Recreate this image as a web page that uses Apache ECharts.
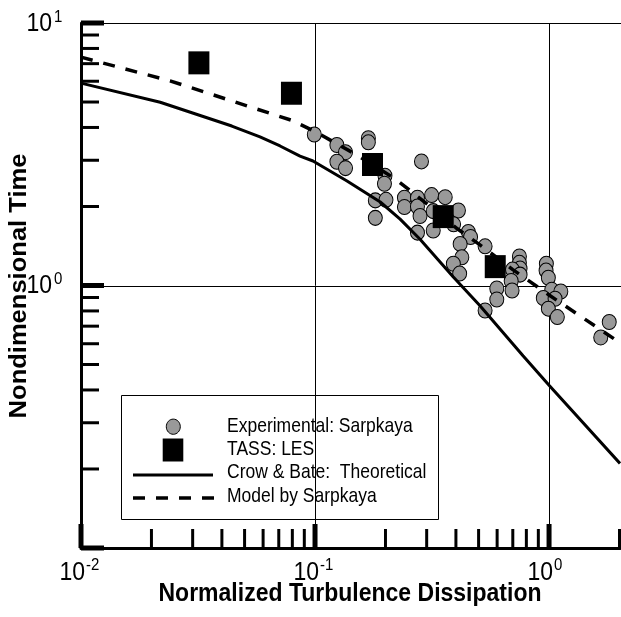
<!DOCTYPE html>
<html><head><meta charset="utf-8">
<script src="https://cdn.jsdelivr.net/npm/echarts@6/dist/echarts.min.js"></script>
<style>html,body{margin:0;padding:0;background:#fff}#c{width:621px;height:617px}</style>
</head><body><div id="c"></div>
<script>
// Experimental: Sarpkaya (circles)
const expX = [0.0993,0.124,0.135,0.169,0.169,0.124,0.135,0.199,0.198,0.285,0.181,0.201,0.181,0.241,0.241,0.274,0.274,0.315,0.360,0.281,0.320,0.320,0.274,0.410,0.391,0.452,0.462,0.417,0.533,0.424,0.390,0.415,0.747,0.747,0.752,0.698,0.752,0.689,0.598,0.598,0.695,0.533,0.974,0.971,0.993,1.027,1.123,0.945,1.061,0.993,1.085,1.808,1.663];
const expY = [3.76,3.43,3.22,3.64,3.51,2.96,2.80,2.62,2.44,2.97,2.11,2.12,1.81,2.16,1.99,2.16,2.00,2.21,2.17,1.84,1.92,1.62,1.59,1.93,1.71,1.60,1.53,1.44,1.41,1.28,1.21,1.11,1.29,1.22,1.16,1.15,1.10,1.04,0.974,0.884,0.957,0.803,1.21,1.14,1.07,0.963,0.949,0.896,0.890,0.816,0.758,0.726,0.634];
// TASS: LES (squares)
const tassX = [0.0319,0.0793,0.176,0.353,0.589];
const tassY = [7.05,5.40,2.89,1.83,1.18];
// Crow & Bate: Theoretical (solid)
const crowX = [0.01,0.0218,0.0441,0.0582,0.0709,0.0863,0.098,0.137,0.19,0.231,0.281,0.389,0.507,0.774,1.0,2.01];
const crowY = [5.9,4.99,4.05,3.68,3.40,3.11,2.98,2.5,2.08,1.79,1.50,1.08,0.838,0.54,0.417,0.21];
// Model by Sarpkaya (dashed)
const sarpX = [0.01,0.024,0.08,0.1,0.15,0.22,0.3,0.4,0.5,0.7,1.0,1.95,2.01];
const sarpY = [7.41,6.02,4.25,3.86,3.15,2.55,2.05,1.66,1.44,1.15,0.92,0.616,0.605];

const X_MIN = 0.01, X_MAX = 2.01, Y_MIN = 0.1, Y_MAX = 10;
const xMajorTicks = [0.01,0.1,1];
const xMinorTicks = [0.02,0.03,0.04,0.05,0.06,0.07,0.08,0.09,0.2,0.3,0.4,0.5,0.6,0.7,0.8,0.9,2];
const yMajorTicks = [0.1,1,10];
const yMinorTicks = [0.2,0.3,0.4,0.5,0.6,0.7,0.8,0.9,2,3,4,5,6,7,8,9];
const xLabelVals = [0.01,0.1,1];
const xLabelExps = ['-2','-1','0'];
const yLabelVals = [1,10];
const yLabelExps = ['0','1'];
const xGridVals = [0.1,1];
const yGridVals = [1,10];

const FONT = "'Liberation Sans', Arial, Helvetica, sans-serif";
const zip = (a,b) => a.map((v,i)=>[v,b[i]]);

function txt(x,y,text,size,align,bold,sy){
  return {type:'text', x:x, y:y, scaleY: sy||1,
    style:{text:text, fontSize:size, fontFamily:FONT, fontWeight: bold?'bold':'normal', fill:'#000',
      align:align, verticalAlign:'middle', textAlign:align, textVerticalAlign:'middle'}};
}

const chart = echarts.init(document.getElementById('c'), null, {renderer:'canvas'});
const option = {
  animation:false,
  backgroundColor:'#fff',
  grid:{left:81, right:1, top:23, bottom:69, containLabel:false},
  xAxis:{type:'log', logBase:10, min:X_MIN, max:X_MAX,
    axisLine:{show:true, onZero:false, lineStyle:{color:'#000', width:3}},
    axisTick:{show:false}, axisLabel:{show:false}, splitLine:{show:false}, minorTick:{show:false}},
  yAxis:{type:'log', logBase:10, min:Y_MIN, max:Y_MAX,
    axisLine:{show:true, onZero:false, lineStyle:{color:'#000', width:3}},
    axisTick:{show:false}, axisLabel:{show:false}, splitLine:{show:false}, minorTick:{show:false}},
  graphic:[
    {type:'group', z:100, children:[
      {type:'rect', shape:{x:121.5,y:395.5,width:317,height:124}, style:{fill:'#fff', stroke:'#000', lineWidth:1}},
      {type:'ellipse', shape:{cx:173.3, cy:426.7, rx:7, ry:7.6}, style:{fill:'#999', stroke:'#000', lineWidth:1}},
      {type:'rect', shape:{x:162.7,y:438.5,width:20.6,height:23}, style:{fill:'#000'}},
      {type:'line', shape:{x1:133,y1:475,x2:213,y2:475}, style:{stroke:'#000', lineWidth:3}},
      {type:'line', shape:{x1:133,y1:498,x2:215,y2:498}, style:{stroke:'#000', lineWidth:3.5, lineDash:[12,11]}},
      txt(227,426,'Experimental: Sarpkaya',17.5,'left',false,1.15),
      txt(227,449.5,'TASS: LES',17.5,'left',false,1.15),
      txt(227,472.5,'Crow & Bate:  Theoretical',17.5,'left',false,1.15),
      txt(227,496,'Model by Sarpkaya',17.5,'left',false,1.15)
    ]},
    Object.assign(txt(350,594,'Normalized Turbulence Dissipation',23,'center',true,1.11), {z:100}),
    {type:'text', z:100, x:20, y:286, rotation:Math.PI/2, scaleX:1.11,
      style:{text:'Nondimensional Time', fontSize:23, fontWeight:'bold', fontFamily:FONT, fill:'#000',
        align:'center', verticalAlign:'middle', textAlign:'center', textVerticalAlign:'middle'}}
  ],
  series:[
    {type:'custom', name:'vgrid', z:1, clip:false, silent:true,
      data: xGridVals.map(v=>[v,Y_MIN]), encode:{x:0,y:1},
      renderItem:(p,api)=>{const a=api.coord([api.value(0),Y_MIN]), b=api.coord([api.value(0),Y_MAX]);
        return {type:'line', shape:{x1:Math.round(a[0])+0.5,y1:a[1],x2:Math.round(b[0])+0.5,y2:b[1]}, style:{stroke:'#000', lineWidth:1}};}},
    {type:'custom', name:'hgrid', z:1, clip:false, silent:true,
      data: yGridVals.map(v=>[X_MIN,v]), encode:{x:0,y:1},
      renderItem:(p,api)=>{const a=api.coord([X_MIN,api.value(1)]), b=api.coord([X_MAX,api.value(1)]);
        return {type:'line', shape:{x1:a[0],y1:Math.round(a[1])+0.5,x2:b[0]+1,y2:Math.round(b[1])+0.5}, style:{stroke:'#000', lineWidth:1}};}},
    {type:'scatter', name:'Experimental: Sarpkaya', z:2, data: zip(expX,expY),
      symbol:'circle', symbolSize:[14,15], itemStyle:{color:'#999', borderColor:'#000', borderWidth:1, opacity:1}},
    {type:'line', name:'Crow & Bate: Theoretical', z:3, data: zip(crowX,crowY), showSymbol:false, symbol:'none',
      lineStyle:{color:'#000', width:3}},
    {type:'line', name:'Model by Sarpkaya', z:3, data: zip(sarpX,sarpY), showSymbol:false, symbol:'none',
      lineStyle:{color:'#000', width:3.5, type:[12,11]}},
    {type:'scatter', name:'TASS: LES', z:4, data: zip(tassX,tassY),
      symbol:'rect', symbolSize:[21,23], itemStyle:{color:'#000', opacity:1}},
    {type:'custom', name:'xticks', z:5, clip:false, silent:true,
      data: xMajorTicks.map(v=>[v,Y_MIN,1]).concat(xMinorTicks.map(v=>[v,Y_MIN,0])), encode:{x:0,y:1},
      renderItem:(p,api)=>{const a=api.coord([api.value(0),Y_MIN]); const maj=api.value(2)===1;
        const len=maj?24:19;
        return {type:'line', shape:{x1:a[0],y1:a[1],x2:a[0],y2:a[1]-len}, style:{stroke:'#000', lineWidth:maj?5:3}};}},
    {type:'custom', name:'yticks', z:5, clip:false, silent:true,
      data: yMajorTicks.map(v=>[X_MIN,v,1]).concat(yMinorTicks.map(v=>[X_MIN,v,0])), encode:{x:0,y:1},
      renderItem:(p,api)=>{const a=api.coord([X_MIN,api.value(1)]); const maj=api.value(2)===1;
        const len=maj?23:18;
        return {type:'line', shape:{x1:a[0],y1:a[1],x2:a[0]+len,y2:a[1]}, style:{stroke:'#000', lineWidth:maj?5:3}};}},
    {type:'custom', name:'xlabels', z:5, clip:false, silent:true,
      data: xLabelVals.map((v,i)=>[v,Y_MIN,i]), encode:{x:0,y:1},
      renderItem:(p,api)=>{const a=api.coord([api.value(0),Y_MIN]); const i=api.value(2);
        return {type:'group', children:[
          txt(a[0]+4, a[1]+25, '10', 23, 'right', false, 1.1),
          txt(a[0]+5, a[1]+17, xLabelExps[i], 15, 'left', false, 1.1)]};}},
    {type:'custom', name:'ylabels', z:5, clip:false, silent:true,
      data: yLabelVals.map((v,i)=>[X_MIN,v,i]), encode:{x:0,y:1},
      renderItem:(p,api)=>{const a=api.coord([X_MIN,api.value(1)]); const i=api.value(2);
        return {type:'group', children:[
          txt(a[0]-29, a[1]+1, '10', 23, 'right', false, 1.1),
          txt(a[0]-27, a[1]-6, yLabelExps[i], 15, 'left', false, 1.1)]};}}
  ]
};
chart.setOption(option);
</script></body></html>
